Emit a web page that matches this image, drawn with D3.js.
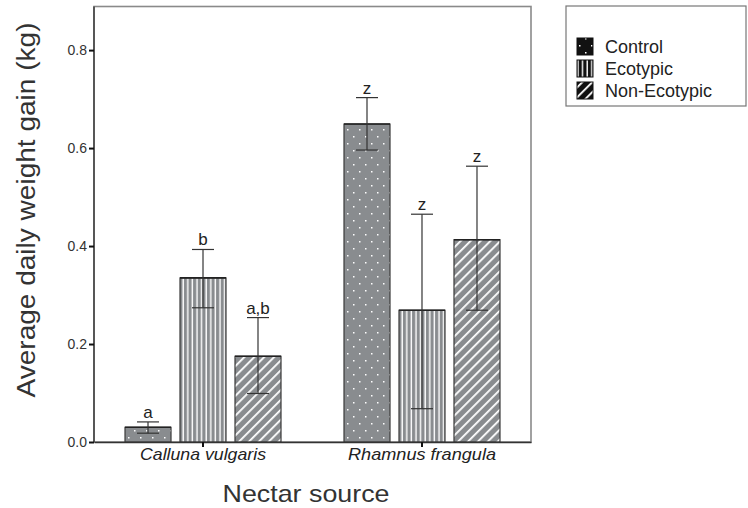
<!DOCTYPE html>
<html><head><meta charset="utf-8">
<script src="https://cdn.jsdelivr.net/npm/d3@7"></script>
<style>body{margin:0;background:#fff}svg{display:block}</style>
</head><body>
<svg id="c" width="748" height="508"></svg>
<script>
const categories = ["Calluna vulgaris", "Rhamnus frangula"];
const series = ["Control", "Ecotypic", "Non-Ecotypic"];
const means = [[0.030, 0.335, 0.175], [0.649, 0.269, 0.413]];
const errLow = [[0.018, 0.274, 0.099], [0.596, 0.068, 0.269]];
const errHigh = [[0.041, 0.393, 0.254], [0.703, 0.465, 0.563]];
const letters = [["a", "b", "a,b"], ["z", "z", "z"]];
const yTicks = [0.0, 0.2, 0.4, 0.6, 0.8];

const FONT = "Liberation Sans, Arial, sans-serif";
const svg = d3.select("#c");
const L = 94, R = 531, T = 6.5, B = 442;
const y = d3.scaleLinear().domain([0, 0.889]).range([B, T]);
const x0 = d3.scaleBand().domain(categories).range([L, R]).paddingInner(0.2877).paddingOuter(0.1416);
const x1 = d3.scaleBand().domain(series).range([0, x0.bandwidth()]).paddingInner(0.1636).paddingOuter(0);

const defs = svg.append("defs");
function makePatterns(prefix, bg) {
  const p1 = defs.append("pattern").attr("id", prefix + "0").attr("patternUnits", "userSpaceOnUse")
    .attr("width", 12).attr("height", 14);
  p1.append("rect").attr("width", 12).attr("height", 14).attr("fill", bg);
  p1.append("rect").attr("x", 3).attr("y", 3).attr("width", 1.5).attr("height", 1.5).attr("fill", "#fff");
  p1.append("rect").attr("x", 9).attr("y", 10).attr("width", 1.5).attr("height", 1.5).attr("fill", "#fff");
  const p2 = defs.append("pattern").attr("id", prefix + "1").attr("patternUnits", "userSpaceOnUse")
    .attr("width", 4.6).attr("height", 10);
  p2.append("rect").attr("width", 4.6).attr("height", 10).attr("fill", bg);
  p2.append("rect").attr("x", 2.3).attr("width", 1.4).attr("height", 10).attr("fill", "#fff");
  const p3 = defs.append("pattern").attr("id", prefix + "2").attr("patternUnits", "userSpaceOnUse")
    .attr("width", 7).attr("height", 7).attr("patternTransform", "rotate(45)");
  p3.append("rect").attr("width", 7).attr("height", 7).attr("fill", bg);
  p3.append("rect").attr("x", 0).attr("width", 1.8).attr("height", 7).attr("fill", "#fff");
}
makePatterns("pb", "#898c8f");
makePatterns("pl", "#111");

// frame
svg.append("rect").attr("x", L).attr("y", T).attr("width", R - L).attr("height", B - T)
  .attr("fill", "none").attr("stroke", "#8a8a8a").attr("stroke-width", 1.6);

// bars
categories.forEach((c, ci) => {
  const g = svg.append("g").attr("transform", `translate(${x0(c)},0)`);
  series.forEach((s, si) => {
    const bx = x1(s), bw = x1.bandwidth(), cx = bx + bw / 2;
    g.append("rect").attr("x", bx).attr("y", y(means[ci][si])).attr("width", bw)
      .attr("height", y(0) - y(means[ci][si])).attr("fill", `url(#pb${si})`)
      .attr("stroke", "#3a3a3a").attr("stroke-width", 1.2);
    g.append("line").attr("x1", bx).attr("x2", bx + bw).attr("y1", y(means[ci][si])).attr("y2", y(means[ci][si]))
      .attr("stroke", "#222").attr("stroke-width", 1.6);
    const cw = 11;
    g.append("line").attr("x1", cx).attr("x2", cx).attr("y1", y(errLow[ci][si])).attr("y2", y(errHigh[ci][si]))
      .attr("stroke", "#333").attr("stroke-width", 1.2);
    [errLow[ci][si], errHigh[ci][si]].forEach(v => {
      g.append("line").attr("x1", cx - cw).attr("x2", cx + cw).attr("y1", y(v)).attr("y2", y(v))
        .attr("stroke", "#333").attr("stroke-width", 1.2);
    });
    g.append("text").attr("x", cx).attr("y", y(errHigh[ci][si]) - 4).attr("text-anchor", "middle")
      .attr("font-family", FONT).attr("font-size", 17).attr("fill", "#222")
      .text(letters[ci][si]);
  });
});

// y axis
const yAxis = d3.axisLeft(y).tickValues(yTicks).tickFormat(d3.format(".1f")).tickSize(5).tickSizeOuter(0);
const ya = svg.append("g").attr("transform", `translate(${L},0)`).call(yAxis);
ya.select(".domain").attr("stroke", "#444").attr("stroke-width", 1.6).attr("d", `M0,${T}V${B}`);
ya.selectAll(".tick line").attr("stroke", "#111").attr("stroke-width", 2);
ya.selectAll(".tick text").attr("font-family", FONT).attr("font-size", 14)
  .attr("fill", "#333").attr("x", -7);

// x axis
const xAxis = d3.axisBottom(x0).tickSize(5).tickSizeOuter(0);
const xa = svg.append("g").attr("transform", `translate(0,${B})`).call(xAxis);
xa.select(".domain").attr("stroke", "#333").attr("stroke-width", 1.4);
xa.selectAll(".tick line").attr("stroke", "#111").attr("stroke-width", 2).attr("y1", 0).attr("y2", 5);
const catW = [126, 148];
xa.selectAll(".tick text").attr("font-family", FONT).attr("font-size", 17)
  .attr("font-style", "italic").attr("fill", "#222").attr("y", 6)
  .attr("textLength", (d, i) => catW[i]).attr("lengthAdjust", "spacingAndGlyphs");

// titles
svg.append("text").attr("transform", `translate(35,210) rotate(-90)`).attr("text-anchor", "middle")
  .attr("font-family", FONT).attr("font-size", 25).attr("fill", "#333")
  .attr("textLength", 375).attr("lengthAdjust", "spacingAndGlyphs")
  .text("Average daily weight gain (kg)");
svg.append("text").attr("x", 306).attr("y", 502).attr("text-anchor", "middle")
  .attr("font-family", FONT).attr("font-size", 24).attr("fill", "#333")
  .attr("textLength", 167).attr("lengthAdjust", "spacingAndGlyphs")
  .text("Nectar source");

// legend
const lg = svg.append("g");
lg.append("rect").attr("x", 566).attr("y", 6).attr("width", 180).attr("height", 100)
  .attr("fill", "#fff").attr("stroke", "#777").attr("stroke-width", 1.2);
series.forEach((s, i) => {
  const yy = 38 + i * 22;
  lg.append("rect").attr("x", 577).attr("y", yy).attr("width", 16).attr("height", 17)
    .attr("fill", `url(#pl${i})`).attr("stroke", "#111").attr("stroke-width", 1);
  lg.append("text").attr("x", 605).attr("y", yy + 15).attr("font-family", FONT)
    .attr("font-size", 18).attr("fill", "#222").text(s);
});
</script>
</body></html>
